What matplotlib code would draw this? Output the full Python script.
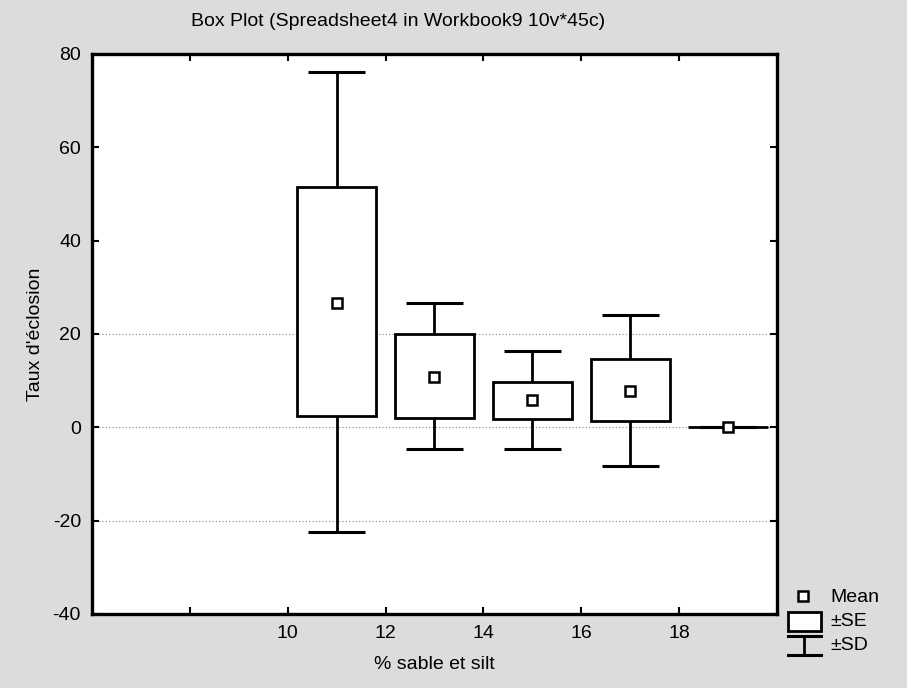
import matplotlib.pyplot as plt
from matplotlib.patches import Rectangle
from matplotlib.lines import Line2D

plt.rcParams['font.family'] = ['Liberation Sans', 'DejaVu Sans']
plt.rcParams['axes.unicode_minus'] = False

# data
positions = [11, 13, 15, 17, 19]
means = [26.7, 10.7, 5.8, 7.7, 0.0]
se_low = [2.4, 1.9, 1.7, 1.3, 0.0]
se_high = [51.4, 19.9, 9.7, 14.6, 0.0]
sd_low = [-22.4, -4.6, -4.7, -8.2, 0.0]
sd_high = [76.1, 26.7, 16.3, 24.1, 0.0]

x_ticks = [8, 10, 12, 14, 16, 18]
x_labels = ["", "10", "12", "14", "16", "18"]
y_ticks = [-40, -20, 0, 20, 40, 60, 80]
grid_levels = [20, 0, -20]

fig = plt.figure(figsize=(9.07, 6.88), dpi=100, facecolor='#dcdcdc')
ax = fig.add_axes([92/907, 1 - 614/688, 685/907, 560/688])
ax.set_facecolor('white')

for g in grid_levels:
    ax.axhline(g, color='#888888', lw=0.8, ls=(0, (1, 2)), zorder=0)

box_w = 1.62
cap_w = 1.16
for i in range(len(positions)):
    x = positions[i]
    ax.vlines(x, sd_low[i], sd_high[i], color='black', lw=2.0, zorder=1)
    ax.hlines([sd_low[i], sd_high[i]], x - cap_w/2, x + cap_w/2, color='black', lw=2.2, zorder=1)
ax.bar(positions, [h - l for h, l in zip(se_high, se_low)], bottom=se_low, width=box_w,
       facecolor='white', edgecolor='black', linewidth=2.0, zorder=2)
ax.plot(positions, means, ls='none', marker='s', ms=7, mfc='white', mec='black', mew=1.8, zorder=3)

ax.set_xlim(6, 20)
ax.set_ylim(-40, 80)
ax.set_xticks(x_ticks)
ax.set_xticklabels(x_labels)
ax.set_yticks(y_ticks)
ax.tick_params(direction='in', top=True, right=True, length=5, width=1.5, labelsize=14, pad=8)
for s in ax.spines.values():
    s.set_linewidth(2.4)

ax.set_xlabel("% sable et silt", fontsize=14, labelpad=10)
ax.set_ylabel("Taux d'éclosion", fontsize=14, labelpad=6)
fig.text(398/907, 1 - 22/688, "Box Plot (Spreadsheet4 in Workbook9 10v*45c)", fontsize=14,
         ha='center', va='center')

# legend drawn by hand, pixel-like coords
lax = fig.add_axes([780/907, 1 - 665/688, 127/907, 80/688])
lax.set_xlim(780, 907)
lax.set_ylim(665, 585)
lax.axis('off')
lax.add_line(Line2D([803], [596], ls='none', marker='s', ms=7, mfc='white', mec='black', mew=1.8))
lax.add_patch(Rectangle((788, 612), 33, 19, facecolor='white', edgecolor='black', lw=2.0))
lax.add_line(Line2D([788, 821], [636, 636], color='black', lw=2.2))
lax.add_line(Line2D([804, 804], [636, 655], color='black', lw=2.0))
lax.add_line(Line2D([788, 821], [655, 655], color='black', lw=2.2))
lax.text(830, 597, "Mean", fontsize=14, va='center')
lax.text(830, 622, "±SE", fontsize=14, va='center')
lax.text(830, 646, "±SD", fontsize=14, va='center')

fig.savefig("out.png", dpi=100, facecolor=fig.get_facecolor())
